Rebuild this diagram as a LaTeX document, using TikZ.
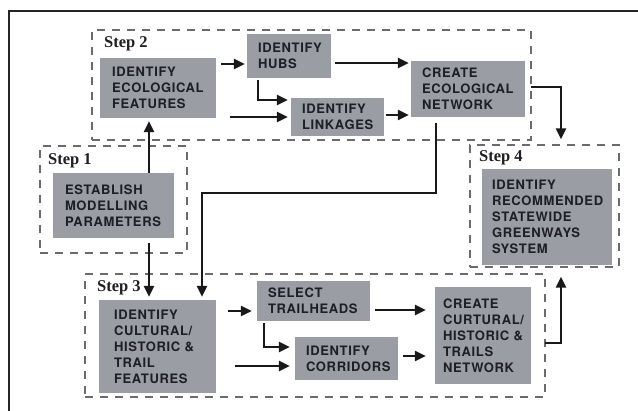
\documentclass[tikz,border=0pt]{standalone}
\usepackage{fontspec}
\setsansfont{TeX Gyre Heros}[LetterSpace=5]
\newfontfamily\stepfont{Liberation Serif}
\usetikzlibrary{arrows.meta}
\definecolor{boxgray}{HTML}{9B9DA4}
\definecolor{boxtext}{HTML}{1E1E24}
\definecolor{dashgray}{HTML}{6A6A70}
\tikzset{
  procbox/.style={fill=boxgray, text=boxtext, inner ysep=0pt, align=left,
    font=\sffamily\bfseries\fontsize{13}{16}\selectfont},
  dashbox/.style={draw=dashgray, line width=1.2pt, dash pattern=on 8pt off 7pt, inner sep=0pt},
  steplabel/.style={anchor=base west, inner sep=0pt, text=boxtext, font=\stepfont\bfseries\fontsize{16.5}{18}\selectfont},
  arr/.style={line width=2.4pt, draw=black!90, -{Triangle[length=11pt,width=10pt]}},
}
\begin{document}
\begin{tikzpicture}[x=1pt,y=-1pt]
\useasboundingbox (0,0) rectangle (638,411);
\clip (0,0) rectangle (638,411);
\fill[white] (0,0) rectangle (638,411);
\draw[line width=1.8pt, black!85] (9,11) rectangle (650,430);

% dashed step frames
\node[dashbox, minimum width=147pt, minimum height=107pt] (s1) at (113.5,199.5) {};
\node[dashbox, minimum width=439pt, minimum height=110pt] (s2) at (311.5,85) {};
\node[dashbox, minimum width=460pt, minimum height=123pt] (s3) at (315,335.5) {};
\node[dashbox, minimum width=149pt, minimum height=122pt] (s4) at (544.5,206) {};

\node[steplabel] (l2) at (104,48) {Step 2};
\node[steplabel] (l1) at (48,165) {Step 1};
\node[steplabel] (l3) at (97,292) {Step 3};
\node[steplabel] (l4) at (479,162) {Step 4};

% process boxes
\node[procbox, inner xsep=12pt, text width=92pt, minimum height=60pt] (eco) at (158,88) {IDENTIFY\\ECOLOGICAL\\FEATURES};
\node[procbox, inner xsep=11pt, text width=62pt, minimum height=44pt] (hubs) at (289,56) {IDENTIFY\\HUBS};
\node[procbox, inner xsep=11pt, text width=71pt, minimum height=38pt] (link) at (337.5,117) {IDENTIFY\\LINKAGES};
\node[procbox, inner xsep=11pt, text width=92pt, minimum height=56pt] (ceco) at (468,89) {CREATE\\ECOLOGICAL\\NETWORK};
\node[procbox, inner xsep=12pt, text width=97pt, minimum height=65pt] (estab) at (113.5,205.5) {ESTABLISH\\MODELLING\\PARAMETERS};
\node[procbox, inner xsep=15pt, text width=87pt, minimum height=93pt] (cult) at (157.5,346.5) {IDENTIFY\\CULTURAL/\\HISTORIC~\&\\TRAIL\\FEATURES};
\node[procbox, inner xsep=11pt, text width=91pt, minimum height=40pt] (trail) at (313.5,301) {SELECT\\TRAILHEADS};
\node[procbox, inner xsep=11pt, text width=81pt, minimum height=43pt] (corr) at (346.5,358.5) {IDENTIFY\\CORRIDORS};
\node[procbox, inner xsep=8pt, text width=80pt, minimum height=97pt] (ccult) at (483,335.5) {CREATE\\CURTURAL/\\HISTORIC~\&\\TRAILS\\NETWORK};
\node[procbox, inner xsep=10pt, text width=110pt, minimum height=96pt] (rec) at (547,217) {IDENTIFY\\RECOMMENDED\\STATEWIDE\\GREENWAYS\\SYSTEM};

% connectors
\draw[arr] ([xshift=35.5pt]estab.north) -- ([xshift=-9pt,yshift=-3pt]eco.south);
\draw[arr] ([xshift=35.5pt,yshift=-5pt]estab.south) -- ([xshift=-8.5pt,yshift=3pt]cult.north);

\coordinate (a1) at ([xshift=5pt,yshift=24pt]eco.east);
\draw[arr] (a1) -- ([xshift=-2pt]hubs.west |- a1);
\draw[arr] ([xshift=14pt]eco.east |- link.west) -- ([xshift=-3pt]link.west);
\draw[arr] ([xshift=-31pt,yshift=-2pt]hubs.south) |- ([xshift=-3pt,yshift=17pt]link.west);
\coordinate (a6) at ([xshift=4pt,yshift=-7pt]hubs.east);
\draw[arr] (a6) -- ([xshift=-2pt]ceco.west |- a6);
\coordinate (a7) at ([xshift=2pt,yshift=2pt]link.east);
\draw[arr] (a7) -- ([xshift=-2pt]ceco.west |- a7);
\draw[arr] ([xshift=6pt,yshift=2pt]ceco.east) -| ([xshift=16.5pt,yshift=5pt]s4.north);
\coordinate (t9) at ([xshift=44.5pt,yshift=107pt]cult.north);
\draw[arr] ([xshift=-32pt,yshift=-6pt]ceco.south) |- (t9) -- ([xshift=44.5pt,yshift=3pt]cult.north);

\coordinate (a10) at ([xshift=-5pt,yshift=-10pt]trail.west);
\draw[arr] ([xshift=12pt]cult.east |- a10) -- (a10);
\coordinate (a11) at ([xshift=-5pt,yshift=-7.5pt]corr.west);
\draw[arr] ([xshift=19pt]cult.east |- a11) -- (a11);
\draw[arr] ([xshift=-49.5pt,yshift=-2pt]trail.south) |- ([xshift=-5pt,yshift=11.5pt]corr.west);
\coordinate (a13) at ([xshift=-9pt,yshift=25.5pt]ccult.west);
\draw[arr] ([xshift=5pt]trail.east |- a13) -- (a13);
\coordinate (a14) at ([xshift=5pt,yshift=2.5pt]corr.east);
\draw[arr] (a14) -- ([xshift=-9pt]ccult.west |- a14);
\draw[arr] ([xshift=14pt,yshift=-7.5pt]ccult.east) -| ([xshift=16.5pt,yshift=-9pt]s4.south);
\end{tikzpicture}
\end{document}
